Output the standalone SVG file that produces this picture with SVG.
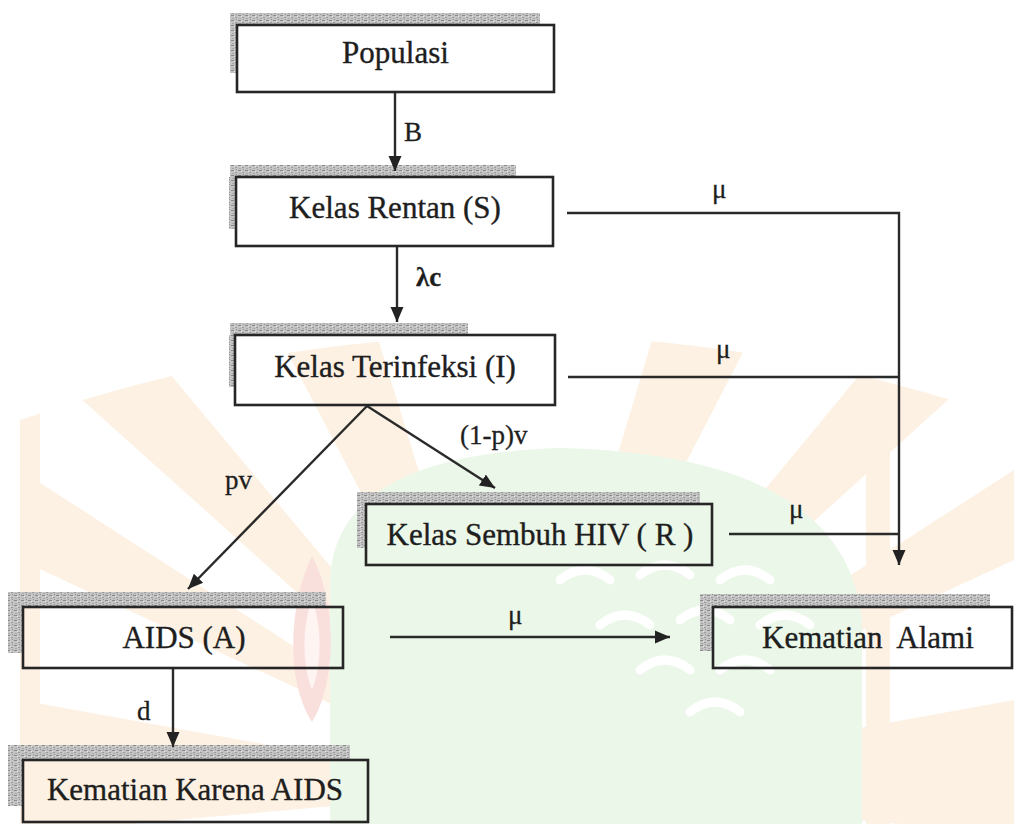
<svg xmlns="http://www.w3.org/2000/svg" width="1034" height="824" viewBox="0 0 1034 824">
<defs>
<style>
.box{fill:none;stroke:#262626;stroke-width:2.6}
.t{font-family:"Liberation Serif","Times New Roman",serif;font-size:31px;fill:#1e1e1e;stroke:#1e1e1e;stroke-width:0.35;text-anchor:middle}
.ts{text-anchor:start}
.lbl{font-family:"Liberation Serif","Times New Roman",serif;font-size:27px;fill:#1e1e1e;stroke:#1e1e1e;stroke-width:0.3}
.ln{fill:none;stroke:#2a2a2a;stroke-width:2.4}
.arr{marker-end:url(#ah)}
.sh{fill:url(#hatch)}
.ray{fill:#fdf1e3}
</style>
<pattern id="hatch" width="7" height="5" patternUnits="userSpaceOnUse">
<rect width="7" height="5" fill="#c4c4c4"/>
<rect x="0" y="0" width="3" height="1" fill="#8a8a8a"/>
<rect x="4" y="2" width="2" height="1" fill="#9a9a9a"/>
<rect x="1" y="3" width="2" height="1" fill="#a8a8a8"/>
<rect x="5" y="4" width="1" height="1" fill="#909090"/>
<rect x="3" y="1" width="1" height="1" fill="#e6e6e6"/>
</pattern>
<marker id="ah" markerUnits="userSpaceOnUse" markerWidth="16" markerHeight="16" viewBox="0 0 16 16" refX="15" refY="8" orient="auto">
<path d="M0,1.5 L15,8 L0,14.5 Z" fill="#222"/>
</marker>
<clipPath id="frame"><path d="M20 824 L20 420 Q517 250 1014 420 L1014 824 Z"/></clipPath>
</defs>
<rect width="1034" height="824" fill="#ffffff"/>
<g id="watermark">
<g clip-path="url(#frame)">
<polygon class="ray" points="517,790 20,560 20,470"/>
<polygon class="ray" points="517,790 60,380 150,350"/>
<polygon class="ray" points="517,790 260,300 360,280"/>
<polygon class="ray" points="517,790 670,280 770,300"/>
<polygon class="ray" points="517,790 880,350 970,380"/>
<polygon class="ray" points="517,790 1014,470 1014,560"/>
<polygon class="ray" points="517,790 1014,700 1014,824 900,824"/>
<polygon class="ray" points="517,790 20,700 20,824 130,824"/>
<rect x="20" y="360" width="20" height="464" fill="#fdf1e3"/>
<rect x="866" y="330" width="24" height="494" fill="#fdf1e3"/>
</g>
<path d="M330 824 L330 580 Q335 455 560 448 Q845 455 862 620 L862 824 Z" fill="#ebf7e8"/>
<g fill="none" stroke="#ffffff" stroke-width="9" stroke-linecap="round">
<path d="M560 580 Q585 560 610 580"/>
<path d="M640 575 Q665 555 690 575"/>
<path d="M720 580 Q745 560 770 580"/>
<path d="M600 625 Q625 605 650 625"/>
<path d="M680 620 Q705 600 730 620"/>
<path d="M760 625 Q785 605 810 625"/>
<path d="M640 670 Q665 650 690 670"/>
<path d="M720 670 Q745 650 770 670"/>
<path d="M690 712 Q715 692 740 712"/>
</g>
<path d="M312 556 C290 600 284 680 312 722 C338 680 336 600 312 556 Z" fill="#fae0dc"/>
<path d="M312 600 C302 625 302 665 312 690 C322 665 322 625 312 600 Z" fill="#fef4f2"/>
</g>
<g id="shadows">
<rect class="sh" x="230" y="13" width="310" height="12"/><rect class="sh" x="230" y="25" width="7" height="48"/>
<rect class="sh" x="230" y="165" width="286" height="12"/><rect class="sh" x="229" y="177" width="7" height="52"/>
<rect class="sh" x="230" y="323" width="238" height="12"/><rect class="sh" x="229" y="335" width="6" height="52"/>
<rect class="sh" x="357" y="492" width="343" height="12"/><rect class="sh" x="357" y="504" width="9" height="44"/>
<rect class="sh" x="8" y="592" width="318" height="15"/><rect class="sh" x="8" y="607" width="15" height="46"/>
<rect class="sh" x="700" y="594" width="290" height="13"/><rect class="sh" x="700" y="607" width="13" height="44"/>
<rect class="sh" x="8" y="745" width="342" height="15"/><rect class="sh" x="8" y="760" width="15" height="46"/>
</g>
<g id="connectors">
<line class="ln arr" x1="395" y1="92" x2="395" y2="171"/>
<line class="ln arr" x1="397" y1="246" x2="397" y2="322"/>
<line class="ln arr" x1="367" y1="406" x2="495" y2="488"/>
<line class="ln arr" x1="367" y1="406" x2="188" y2="589"/>
<polyline class="ln arr" points="567,213 899,213 899,565"/>
<line class="ln" x1="568" y1="377" x2="899" y2="377"/>
<line class="ln" x1="729" y1="534" x2="899" y2="534"/>
<line class="ln arr" x1="390" y1="637" x2="670" y2="637"/>
<line class="ln arr" x1="173" y1="668" x2="173" y2="747"/>
</g>
<g id="labels">
<text class="lbl" x="404" y="141">B</text>
<text class="lbl" x="416" y="286" font-weight="bold">λc</text>
<text class="lbl" x="712" y="198">μ</text>
<text class="lbl" x="716" y="358">μ</text>
<text class="lbl" x="789" y="518">μ</text>
<text class="lbl" x="508" y="624">μ</text>
<text class="lbl" x="460" y="444">(1-p)v</text>
<text class="lbl" x="225" y="489">pv</text>
<text class="lbl" x="137" y="720">d</text>
</g>
<g id="populasi"><rect class="box" x="237" y="25" width="317" height="67"/><text class="t" x="395.5" y="63">Populasi</text></g>
<g id="rentan"><rect class="box" x="236" y="177" width="317" height="69"/><text class="t" x="395" y="218">Kelas Rentan (S)</text></g>
<g id="terinfeksi"><rect class="box" x="235" y="335" width="320" height="70"/><text class="t" x="395" y="377">Kelas Terinfeksi (I)</text></g>
<g id="sembuh"><rect class="box" x="366" y="504" width="346" height="61"/><text class="t" x="540" y="545">Kelas Sembuh HIV ( R )</text></g>
<g id="aids"><rect class="box" x="23" y="607" width="320" height="61"/><text class="t" x="184" y="648">AIDS (A)</text></g>
<g id="alami"><rect class="box" x="713" y="607" width="299" height="61"/><text class="t ts" x="762" y="648" xml:space="preserve">Kematian  Alami</text></g>
<g id="kematian-aids"><rect class="box" x="23" y="760" width="345" height="62"/><text class="t" x="195" y="800">Kematian Karena AIDS</text></g>
</svg>
